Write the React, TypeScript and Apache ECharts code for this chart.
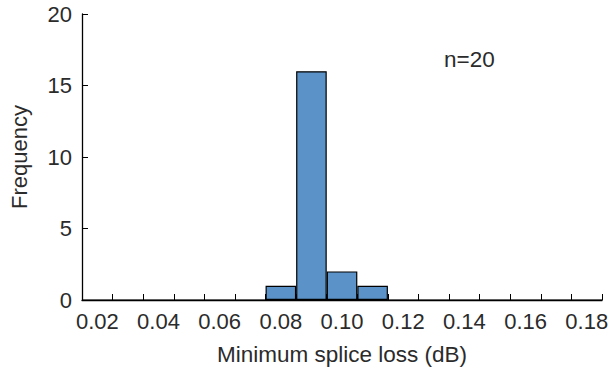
import React, { useEffect, useRef } from "react";
import * as echarts from "echarts";

const binCenters: string[] = [
  "0.02", "0.03", "0.04", "0.05", "0.06", "0.07", "0.08", "0.09", "0.10",
  "0.11", "0.12", "0.13", "0.14", "0.15", "0.16", "0.17", "0.18",
];
const frequencies: number[] = [0, 0, 0, 0, 0, 0, 1, 16, 2, 1, 0, 0, 0, 0, 0, 0, 0];
const yTicks = { min: 0, max: 20, interval: 5 };
const annotation = "n=20";
const xTitle = "Minimum splice loss (dB)";
const yTitle = "Frequency";

const FONT = "'Liberation Sans', Arial, sans-serif";
const TXT = "#2b2b2b";

export default function App() {
  const ref = useRef<HTMLDivElement>(null);
  useEffect(() => {
    if (!ref.current) return;
    const chart = echarts.init(ref.current, undefined, { renderer: "svg" });
    chart.setOption({
      animation: false,
      backgroundColor: "#fff",
      grid: { left: 78, right: 7, top: 14, bottom: 76, containLabel: false },
      textStyle: { fontFamily: FONT },
      xAxis: {
        type: "category",
        data: binCenters,
        boundaryGap: true,
        name: xTitle,
        nameLocation: "middle",
        nameGap: 43,
        nameTextStyle: { fontSize: 22.5, color: TXT, fontFamily: FONT },
        axisLine: { show: true, lineStyle: { color: "#000", width: 1.3 } },
        axisTick: { show: true, inside: true, length: 6, interval: 0, lineStyle: { color: "#000" } },
        axisLabel: { interval: 1, fontSize: 22, color: TXT, margin: 10, fontFamily: FONT },
        splitLine: { show: false },
      },
      yAxis: {
        type: "value",
        min: yTicks.min,
        max: yTicks.max,
        interval: yTicks.interval,
        name: yTitle,
        nameLocation: "middle",
        nameGap: 52,
        nameTextStyle: { fontSize: 22, color: TXT, fontFamily: FONT },
        axisLine: { show: true, lineStyle: { color: "#000", width: 1.3 } },
        axisTick: { show: true, inside: true, length: 6, lineStyle: { color: "#000" } },
        axisLabel: { fontSize: 22, color: TXT, margin: 10, fontFamily: FONT },
        splitLine: { show: false },
      },
      graphic: [
        {
          type: "text",
          left: 444,
          top: 48,
          style: { text: annotation, fontSize: 22.5, fill: TXT, fontFamily: FONT },
        },
      ],
      series: [
        {
          type: "bar",
          data: frequencies,
          barCategoryGap: "0%",
          itemStyle: { color: "#5b93c9", borderColor: "#000", borderWidth: 1.2 },
        },
      ],
    });
    return () => chart.dispose();
  }, []);
  return (
    <div
      ref={ref}
      style={{ position: "absolute", left: 0, top: 0, width: 611, height: 376 }}
    />
  );
}
